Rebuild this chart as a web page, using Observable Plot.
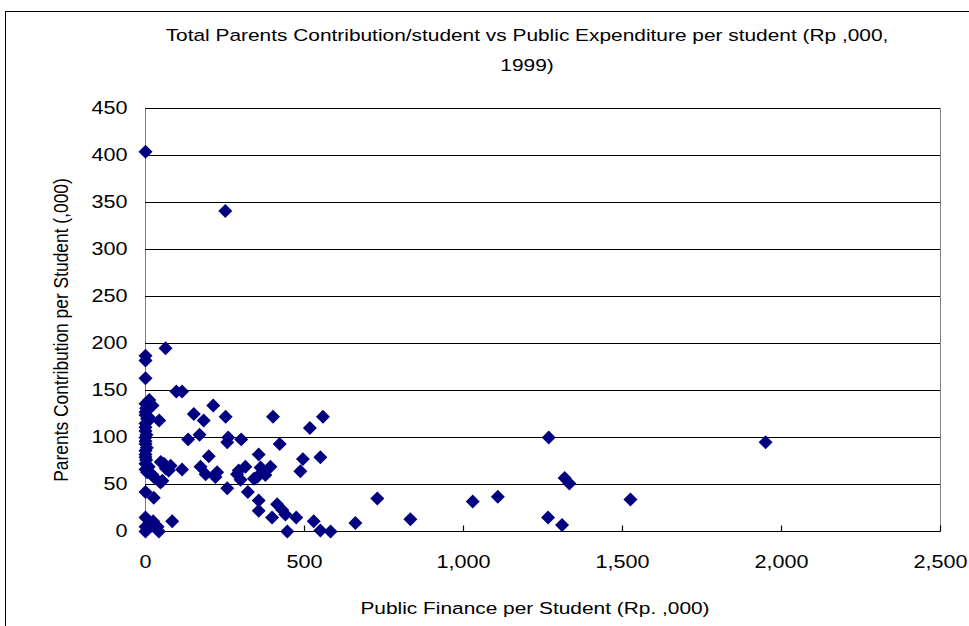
<!DOCTYPE html>
<html>
<head>
<meta charset="utf-8">
<script src="https://cdn.jsdelivr.net/npm/d3@7"></script>
<script src="https://cdn.jsdelivr.net/npm/@observablehq/plot@0.6"></script>
<style>
  body { margin: 0; background: #fff; }
  #chart { position: relative; width: 969px; height: 626px; overflow: hidden;
           font-family: "Liberation Sans", Arial, sans-serif; color: #000; background: #fff; }
  #chart svg { position: absolute; left: 0; top: 0; }
  .border { position: absolute; left: 5px; top: 11px; width: 1000px; height: 700px;
            border: 1px solid #000; box-sizing: border-box; }
  .t { position: absolute; white-space: nowrap; font-size: 17.4px; line-height: 1;
       transform: translate(-50%, -50%) scaleX(1.2); }
  .rot { transform: translate(-50%, -50%) scaleX(1.2) rotate(-90deg); }
</style>
</head>
<body>
<div id="chart"><div class="border"></div></div>
<script>
// Public finance per student (Rp ,000) and parents' contribution per student (,000), 1999
const publicFinance = [
  0, 251, 63, 0, 0, 0, 97, 115, 12, 0,
  22, 2, 213, 0, 152, 0, 252, 401, 558, 5,
  43, 183, 0, 0, 517, 0, 3, 170, 0, 260,
  134, 301, 0, 257, 0, 422, 4, 0, 0, 356,
  0, 199, 550, 2, 495, 48, 0, 58, 79, 314,
  10, 173, 393, 362, 64, 115, 0, 73, 293, 487,
  5, 225, 189, 288, 22, 377, 26, 220, 351, 299,
  341, 53, 47, 1318, 1333, 257, 0, 322, 26, 729,
  1525, 356, 1029, 1108, 414, 430, 356, 440, 0, 398,
  474, 1266, 833, 24, 84, 529, 660, 1310, 0, 38,
  0, 42, 446, 550, 582, 1268, 1950, 20, 15
];
const parentsContribution = [
  404, 341, 195, 187, 182, 163, 149, 149, 140, 136,
  134, 131, 134, 127, 125, 124, 122, 122, 122, 120,
  118, 118, 115, 111, 110, 107, 103, 103, 100, 100,
  98, 98, 96, 95, 93, 93, 89, 86, 82, 82,
  79, 80, 79, 76, 77, 74, 72, 72, 70, 69,
  69, 69, 69, 68, 67, 66, 66, 65, 65, 64,
  63, 63, 61, 61, 60, 60, 58, 58, 58, 55,
  56, 54, 52, 57, 51, 46, 42, 42, 36, 35,
  34, 33, 32, 37, 29, 23, 22, 18, 15, 15,
  15, 15, 13, 11, 11, 11, 9, 7, 5, 5,
  0, 0, 0, 1, 0, 100, 95, 6, 120
];
const xTicks = [0, 500, 1000, 1500, 2000, 2500];
const yTicks = [0, 50, 100, 150, 200, 250, 300, 350, 400, 450];

const points = publicFinance.map((x, i) => ({x, y: parentsContribution[i]}));

// Short upward tick drawn inside the plot area at each x tick
const tickUp = {draw(context) { context.moveTo(0, 0); context.lineTo(0, -6); }};

const chart = Plot.plot({
  width: 969,
  height: 626,
  marginLeft: 145,
  marginRight: 29,
  marginTop: 108,
  marginBottom: 95,
  style: {fontFamily: "'Liberation Sans', Arial, sans-serif", fontSize: "18px", color: "#000", background: "transparent"},
  x: {domain: [0, 2500]},
  y: {domain: [0, 450]},
  marks: [
    Plot.frame({stroke: "#808080"}),
    Plot.gridY(yTicks, {stroke: "#000", strokeOpacity: 1}),
    Plot.ruleY([0], {stroke: "#000"}),
    Plot.dot(xTicks.slice(1), {x: d => d, y: 0, symbol: tickUp, stroke: "#000", fill: "none", strokeWidth: 1.2}),
    Plot.axisX(xTicks, {tickSize: 0, tickPadding: 24, tickFormat: d3.format(","), label: null, fill: "#000"}),
    Plot.axisY(yTicks, {tickSize: 0, tickPadding: 18, label: null, fill: "#000"}),
    Plot.dot(points, {x: "x", y: "y", symbol: "diamond2", r: 6.3, fill: "#000080", stroke: "none"})
  ]
});

// Widen tick labels horizontally to match the chart's typeface proportions
chart.querySelectorAll('g[aria-label$="tick label"] text').forEach(t => {
  const tr = t.getAttribute("transform") || "";
  t.setAttribute("transform", tr + " scale(1.2,1)");
});

const root = document.getElementById("chart");
root.appendChild(chart);

function addText(txt, left, top, cls) {
  const d = document.createElement("div");
  d.className = "t" + (cls ? " " + cls : "");
  d.style.left = left + "px";
  d.style.top = top + "px";
  d.textContent = txt;
  root.appendChild(d);
}
addText("Total Parents Contribution/student vs Public Expenditure per student (Rp ,000,", 527, 36);
addText("1999)", 527, 66);
addText("Public Finance per Student (Rp. ,000)", 535, 609);
addText("Parents Contribution per Student (,000)", 62, 330, "rot");
</script>
</body>
</html>
